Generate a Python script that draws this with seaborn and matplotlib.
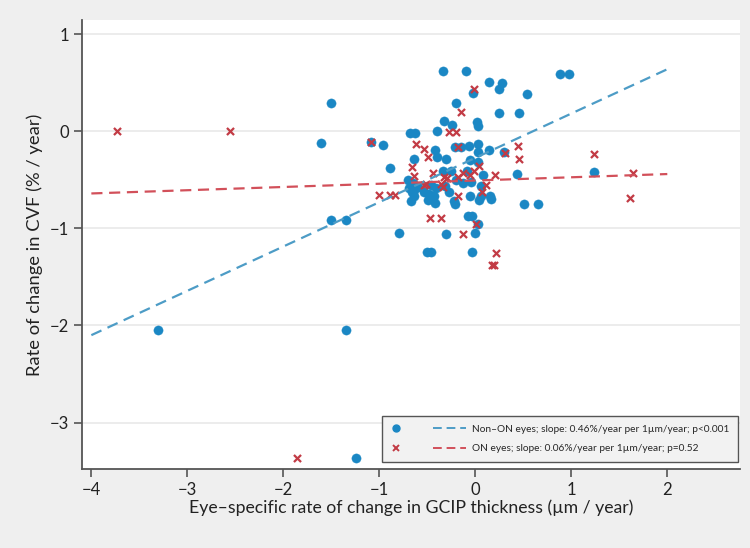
import numpy as np
import pandas as pd
import matplotlib
matplotlib.use("Agg")
import matplotlib.pyplot as plt
import seaborn as sns
from matplotlib.lines import Line2D
from matplotlib.legend_handler import HandlerBase

# ---- data ----
non_on_x = [-3.31, -1.35, -1.24, -1.50, -1.61, -1.50, -1.35, -1.09, -0.79,
            -0.34, -0.10, 0.14, 0.28, 0.25, 0.54, -0.02, -0.20, 0.25, 0.46, 0.88, 0.98,
            -0.33, -0.24, 0.02, 0.03, -0.68, -0.63, -0.40, -0.96,
            -0.21, -0.15, -0.07, 0.03, 0.03, -0.42, -0.40, -0.31, -0.64, -0.06, 0.03, 0.30, 0.14,
            -0.89, -0.34, -0.25, -0.09, 0.08, 0.43, 1.24,
            -0.70, -0.65, -0.69, -0.64, -0.60, -0.46, -0.41, -0.32, -0.20, -0.13, -0.04, 0.06,
            -0.53, -0.48, -0.43, -0.06, 0.06, 0.15,
            -0.66, -0.64, -0.67, -0.49, -0.42, -0.27, -0.22, -0.21, 0.04, 0.16, 0.51, 0.65,
            -0.08, -0.03, 0.03, -0.31, 0.00, -0.50, -0.46, -0.03]
non_on_y = [-2.05, -2.05, -3.37, 0.29, -0.12, -0.91, -0.91, -0.11, -1.05,
            0.62, 0.62, 0.51, 0.50, 0.44, 0.38, 0.39, 0.29, 0.19, 0.19, 0.59, 0.59,
            0.11, 0.07, 0.10, 0.06, -0.02, -0.02, 0.00, -0.14,
            -0.16, -0.16, -0.15, -0.13, -0.21, -0.19, -0.26, -0.29, -0.29, -0.30, -0.32, -0.21, -0.19,
            -0.38, -0.41, -0.41, -0.41, -0.45, -0.44, -0.42,
            -0.50, -0.53, -0.58, -0.60, -0.57, -0.55, -0.58, -0.56, -0.50, -0.53, -0.52, -0.56,
            -0.62, -0.65, -0.67, -0.67, -0.67, -0.67,
            -0.63, -0.67, -0.72, -0.71, -0.74, -0.63, -0.72, -0.75, -0.71, -0.70, -0.75, -0.75,
            -0.87, -0.87, -0.95, -1.06, -1.05, -1.24, -1.24, -1.24]

on_x = [-3.73, -2.56, -1.86, -1.09, -1.00, -0.89, -0.84,
        -0.01, -0.15, -0.27, -0.20, -0.62, -0.53, -0.49, -0.18, 0.44, 0.31, 0.46, 1.24, 1.64, 1.61,
        -0.66, -0.64, -0.44, -0.33, -0.18, -0.13, -0.01, 0.20, -0.53, -0.34, 0.11, -0.18, 0.07,
        -0.47, -0.36, -0.13, 0.01, 0.22, 0.17, 0.19,
        -0.51, -0.36, -0.30, -0.06, 0.04]
on_y = [0.00, 0.00, -3.37, -0.11, -0.66, -0.66, -0.66,
        0.44, 0.20, -0.01, -0.01, -0.13, -0.18, -0.26, -0.16, -0.15, -0.22, -0.29, -0.23, -0.43, -0.69,
        -0.37, -0.46, -0.43, -0.47, -0.47, -0.43, -0.41, -0.45, -0.55, -0.57, -0.55, -0.67, -0.63,
        -0.89, -0.89, -1.06, -0.95, -1.25, -1.38, -1.38,
        -0.54, -0.54, -0.48, -0.45, -0.36]

fit_x = [-4.0, 2.0]
non_on_fit = [-2.10, 0.64]
on_fit = [-0.64, -0.44]

x_ticks = [-4, -3, -2, -1, 0, 1, 2]
y_ticks = [-3, -2, -1, 0, 1]

label_non_on = "Non\u2013ON eyes; slope: 0.46%/year per 1\u00b5m/year; p<0.001"
label_on = "ON eyes; slope: 0.06%/year per 1\u00b5m/year; p=0.52"

# ---- style ----
sns.set_theme(style="white")
plt.rcParams['font.family'] = ['Lato', 'DejaVu Sans']

blue = "#1a87c4"
red = "#c23b45"
blue_line = "#4d9cc6"
red_line = "#d2505a"
DASH = (0, (5, 3))


class MarkerThenLine(HandlerBase):
    """Legend handle: marker at the left, dashed line segment at the right."""
    def create_artists(self, legend, orig_handle, xdescent, ydescent, width,
                       height, fontsize, trans):
        mk, ln = orig_handle
        y = height / 2.0 - ydescent
        x0 = -xdescent
        m = Line2D([x0 + 0.08 * width], [y], marker=mk.get_marker(),
                   color=mk.get_color(), markersize=mk.get_markersize(),
                   markeredgewidth=mk.get_markeredgewidth(), linestyle="none",
                   transform=trans)
        l = Line2D([x0 + 0.56 * width, x0 + 0.98 * width], [y, y],
                   color=ln.get_color(), linewidth=ln.get_linewidth(),
                   linestyle=ln.get_linestyle(), transform=trans)
        l.set_dashes((4.5, 2.5))
        return [m, l]


fig = plt.figure(figsize=(7.5, 5.48), dpi=100, facecolor="#efefef")
ax = fig.add_axes([0.109, 0.144, 0.878, 0.82])
ax.set_facecolor("white")

ax.grid(axis="y", color="#e9e9e9", linewidth=1.2, zorder=0)
ax.set_axisbelow(True)

df_n = pd.DataFrame({"x": non_on_x, "y": non_on_y})
df_o = pd.DataFrame({"x": on_x, "y": on_y})
sns.scatterplot(data=df_n, x="x", y="y", ax=ax, color=blue, marker="o", s=44,
                edgecolor=blue, linewidth=0.3, zorder=3)
sns.scatterplot(data=df_o, x="x", y="y", ax=ax, color=red, marker="x", s=26,
                linewidth=1.6, zorder=4)

sns.lineplot(x=fit_x, y=non_on_fit, ax=ax, color=blue_line, linewidth=1.6,
             linestyle=DASH, zorder=5)
sns.lineplot(x=fit_x, y=on_fit, ax=ax, color=red_line, linewidth=1.6,
             linestyle=DASH, zorder=5)

ax.set_xlim(-4.10, 2.76)
ax.set_ylim(-3.48, 1.15)
ax.set_xticks(x_ticks)
ax.set_yticks(y_ticks)
ax.set_xticklabels(["\u2212" + str(abs(t)) if t < 0 else str(t) for t in x_ticks])
ax.set_yticklabels(["\u2212" + str(abs(t)) if t < 0 else str(t) for t in y_ticks])

for s in ["top", "right"]:
    ax.spines[s].set_visible(False)
for s in ["left", "bottom"]:
    ax.spines[s].set_color("#555555")
    ax.spines[s].set_linewidth(1.3)
ax.tick_params(axis="both", direction="out", length=6, width=1.2, color="#555555",
               labelsize=12, labelcolor="#222222", pad=3)
ax.tick_params(axis="x", bottom=True)
ax.tick_params(axis="y", left=True)

ax.set_xlabel("Eye\u2013specific rate of change in GCIP thickness (\u00b5m / year)",
              fontsize=12.7, color="#222222", labelpad=1)
ax.set_ylabel("Rate of change in CVF (% / year)", fontsize=13.2, color="#222222", labelpad=5)

h_n = (Line2D([], [], color=blue, marker="o", linestyle="none", markersize=5),
       Line2D([], [], color=blue_line, linewidth=1.4))
h_o = (Line2D([], [], color=red, marker="x", linestyle="none", markersize=5, markeredgewidth=1.4),
       Line2D([], [], color=red_line, linewidth=1.4))
leg = ax.legend([h_n, h_o], [label_non_on, label_on],
                handler_map={tuple: MarkerThenLine()},
                loc="lower right", bbox_to_anchor=(0.997, 0.016), borderaxespad=0,
                fontsize=7.3, handlelength=7.6, handletextpad=0.5,
                frameon=True, fancybox=False, framealpha=1, labelspacing=1.05,
                borderpad=0.85)
leg.get_frame().set_facecolor("#f2f2f2")
leg.get_frame().set_edgecolor("#555555")
leg.get_frame().set_linewidth(1.0)

fig.savefig("out.png", dpi=100, facecolor=fig.get_facecolor())
